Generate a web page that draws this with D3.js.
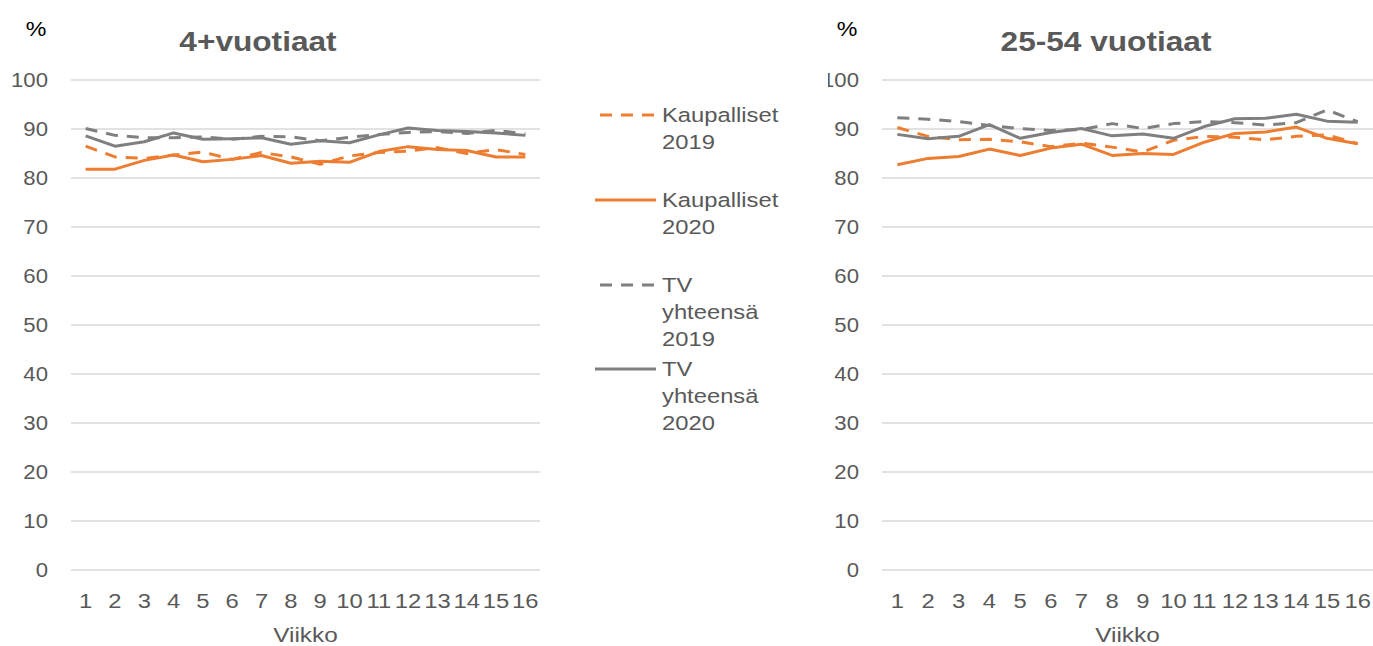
<!DOCTYPE html>
<html>
<head>
<meta charset="utf-8">
<script src="https://cdn.jsdelivr.net/npm/d3@7"></script>
<style>
  body { margin: 0; background: #fff; }
  svg { display: block; font-family: "Liberation Sans", Arial, sans-serif; }
</style>
</head>
<body>
<div id="chart"></div>
<script>
// data
const weeks = d3.range(1, 17);
const yTicks = [0, 10, 20, 30, 40, 50, 60, 70, 80, 90, 100];
const seriesNames = ["Kaupalliset 2019", "Kaupalliset 2020", "TV yhteensä 2019", "TV yhteensä 2020"];

// 4+vuotiaat
const kap2019_4 = [86.5, 84.3, 84.0, 84.7, 85.3, 83.8, 85.2, 84.3, 82.8, 84.5, 85.2, 85.5, 86.2, 85.0, 85.8, 84.8];
const kap2020_4 = [81.8, 81.8, 83.6, 84.7, 83.3, 83.8, 84.6, 83.0, 83.4, 83.2, 85.4, 86.4, 85.8, 85.6, 84.3, 84.3];
const tv2019_4  = [90.1, 88.7, 88.2, 88.2, 88.4, 87.9, 88.5, 88.4, 87.6, 88.3, 88.9, 89.3, 89.5, 89.1, 89.7, 89.0];
const tv2020_4  = [88.6, 86.5, 87.4, 89.2, 87.9, 88.0, 88.2, 86.9, 87.6, 87.2, 88.8, 90.2, 89.7, 89.5, 89.2, 88.7];

// 25-54 vuotiaat
const kap2019_25 = [90.3, 88.5, 87.8, 87.9, 87.4, 86.4, 87.1, 86.3, 85.3, 87.7, 88.5, 88.3, 87.8, 88.5, 88.8, 87.0];
const kap2020_25 = [82.7, 84.0, 84.4, 85.9, 84.6, 86.1, 86.9, 84.6, 85.0, 84.8, 87.3, 89.1, 89.4, 90.4, 88.1, 87.0];
const tv2019_25  = [92.3, 92.0, 91.5, 90.7, 90.1, 89.7, 89.9, 91.1, 90.1, 91.1, 91.5, 91.3, 90.8, 91.3, 93.9, 91.5];
const tv2020_25  = [88.9, 88.0, 88.5, 90.9, 88.1, 89.3, 90.1, 88.6, 89.0, 88.1, 90.5, 92.1, 92.2, 93.0, 91.6, 91.4];

const colors = ["#ED7D31", "#ED7D31", "#7F7F7F", "#7F7F7F"];
const dashes = ["12,9", null, "12,9", null];

const width = 1373, height = 646;
const textColor = "#595959";
const stretch = 1.16; // the picture's text is a bit wide

const svg = d3.select("#chart").append("svg")
    .attr("width", width)
    .attr("height", height);

const y = d3.scaleLinear().domain([0, 100]).range([570, 80]);

// place a text with the horizontal stretch
function place(sel, fx, fy, sx) {
    return sel.attr("transform", (d, i) => `translate(${fx(d, i)},${fy(d, i)}) scale(${sx || stretch},1)`);
}

// draw one panel
function drawPanel(cfg) {
    const x = d3.scaleBand().domain(weeks).range([cfg.x0, cfg.x1]);
    const cx = d => x(d) + x.bandwidth() / 2;

    const g = svg.append("g");

    // gridlines
    g.append("g")
        .selectAll("line")
        .data(yTicks)
        .join("line")
        .attr("x1", cfg.x0)
        .attr("x2", cfg.x1)
        .attr("y1", d => y(d))
        .attr("y2", d => y(d))
        .attr("stroke", "#D9D9D9")
        .attr("stroke-width", 1.3);

    // y labels (clipped on the right panel like the picture)
    const clipId = "clip" + cfg.x0;
    svg.append("clipPath").attr("id", clipId)
        .append("rect")
        .attr("x", cfg.clipX).attr("y", 0)
        .attr("width", width).attr("height", height);

    place(g.append("g")
        .attr("clip-path", `url(#${clipId})`)
        .selectAll("text")
        .data(yTicks)
        .join("text"), () => cfg.x0 - 23, d => y(d), 1.08)
        .attr("dy", "0.36em")
        .attr("text-anchor", "end")
        .attr("font-size", 20.5)
        .attr("fill", textColor)
        .text(d => d);

    // x labels
    place(g.append("g")
        .selectAll("text")
        .data(weeks)
        .join("text"), d => cx(d), () => 608)
        .attr("text-anchor", "middle")
        .attr("font-size", 20.5)
        .attr("fill", textColor)
        .text(d => d);

    // axis title
    place(g.append("text"), () => (cfg.x0 + cfg.x1) / 2, () => 642)
        .attr("text-anchor", "middle")
        .attr("font-size", 21)
        .attr("fill", textColor)
        .text("Viikko");

    // chart title
    place(g.append("text"), () => cfg.titleX, () => 51, 1.13)
        .attr("text-anchor", "middle")
        .attr("font-size", 28)
        .attr("font-weight", "bold")
        .attr("fill", textColor)
        .text(cfg.title);

    // % unit
    place(g.append("text"), () => cfg.pctX, () => 36)
        .attr("text-anchor", "middle")
        .attr("font-size", 20)
        .attr("fill", "#000")
        .text("%");

    const line = d3.line()
        .x((d, i) => cx(weeks[i]))
        .y(d => y(d));

    cfg.series.forEach((s, i) => {
        g.append("path")
            .datum(s)
            .attr("d", line)
            .attr("fill", "none")
            .attr("stroke", colors[i])
            .attr("stroke-width", 3)
            .attr("stroke-linejoin", "round")
            .attr("stroke-dasharray", dashes[i]);
    });
}

drawPanel({
    x0: 71, x1: 540, clipX: 0,
    title: "4+vuotiaat", titleX: 258, pctX: 36,
    series: [kap2019_4, kap2020_4, tv2019_4, tv2020_4]
});

drawPanel({
    x0: 882, x1: 1373, clipX: 828,
    title: "25-54 vuotiaat", titleX: 1106, pctX: 847,
    series: [kap2019_25, kap2020_25, tv2019_25, tv2020_25]
});

// legend
const legendY = [115, 200, 285, 369];
const legendLines = [["Kaupalliset", "2019"], ["Kaupalliset", "2020"], ["TV", "yhteensä", "2019"], ["TV", "yhteensä", "2020"]];

const legend = svg.append("g");
seriesNames.forEach((name, i) => {
    const item = legend.append("g").attr("transform", `translate(0, ${legendY[i]})`);
    item.append("line")
        .attr("x1", 595).attr("x2", 656)
        .attr("stroke", colors[i])
        .attr("stroke-width", 3)
        .attr("stroke-dasharray", dashes[i])
        .attr("stroke-dashoffset", dashes[i] ? 16 : null);
    legendLines[i].forEach((t, j) => {
        place(item.append("text"), () => 662, () => j * 27)
            .attr("dy", "0.36em")
            .attr("font-size", 20.5)
            .attr("fill", textColor)
            .text(t);
    });
});
</script>
</body>
</html>
